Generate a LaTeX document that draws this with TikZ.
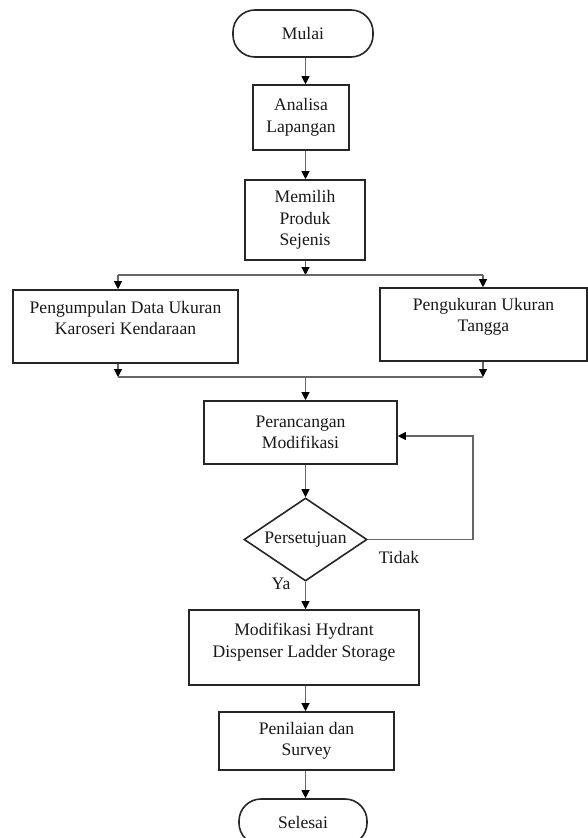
\documentclass[tikz,border=0pt]{standalone}
\usepackage{fontspec}
\setmainfont{Liberation Serif}
\usetikzlibrary{arrows.meta,shapes.geometric}
\begin{document}
\begin{tikzpicture}[x=1pt,y=-1pt,
  every node/.style={font=\fontsize{17.6}{21.5}\selectfont, text=black!90},
  box/.style={draw=black!85, line width=1.6pt, rectangle, inner sep=0pt, align=center},
  term/.style={box, rounded corners=22pt},
  txt/.style={align=center, inner sep=0pt},
  conn/.style={draw=black!60, line width=1.1pt},
  arr/.style={conn, -{Triangle[length=8pt,width=8pt,color=black]}},
]
\useasboundingbox[fill=white] (0,0) rectangle (588,838);

\node[term, minimum width=140pt, minimum height=47pt] (mulai) at (303,33.5) {Mulai};
\node[box, minimum width=96pt, minimum height=65pt] (analisa) at (301,117.5) {Analisa\\Lapangan};
\node[box, minimum width=120pt, minimum height=80pt] (memilih) at (305,220) {Memilih\\Produk\\Sejenis};
\node[box, minimum width=225pt, minimum height=73pt] (kumpul) at (125.5,326.5) {};
\node[txt] (kumpulT) at (125.5,318) {Pengumpulan Data Ukuran\\Karoseri Kendaraan};
\node[box, minimum width=207pt, minimum height=73pt] (ukur) at (483.5,324.5) {};
\node[txt] (ukurT) at (483.5,317) {Pengukuran Ukuran\\Tangga};
\node[box, minimum width=193pt, minimum height=63pt] (rancang) at (300.5,432.5) {Perancangan\\Modifikasi};
\node[draw=black!85, line width=1.6pt, diamond, aspect=1.5, inner sep=0pt,
      minimum width=123pt, minimum height=83pt] (setuju) at (305.5,539.5) {Persetujuan};
\node[box, minimum width=230pt, minimum height=75pt] (modif) at (304,647.5) {};
\node[txt] (modifT) at (304,642) {Modifikasi Hydrant\\Dispenser Ladder Storage};
\node[box, minimum width=175pt, minimum height=58pt] (nilai) at (306.5,741) {Penilaian dan\\Survey};
\node[term, minimum width=128pt, minimum height=46pt] (selesai) at (303,822) {Selesai};
\node (tidak) at (399,557) {Tidak};
\node (ya) at (281,584) {Ya};

\coordinate (sp) at (305.5,0);
\coordinate (split) at (305.5,275);
\coordinate (merge) at (305.5,377);
\coordinate (sl) at (118,275);
\coordinate (sr) at (483,275);
\coordinate (ml) at (118,377);
\coordinate (mr) at (483,377);
\coordinate (fb) at (473,436);

\draw[arr] (mulai.south -| sp) -- (analisa.north -| sp);
\draw[arr] (analisa.south -| sp) -- (memilih.north -| sp);
\draw[arr] (memilih.south -| sp) -- (split);
\draw[conn] (sl) -- (sr);
\draw[arr] (sl) -- (kumpul.north -| sl);
\draw[arr] (sr) -- (ukur.north -| sr);
\draw[arr] (kumpul.south -| ml) -- (ml);
\draw[arr] (ukur.south -| mr) -- (mr);
\draw[conn] (ml) -- (mr);
\draw[arr] (merge) -- (rancang.north -| sp);
\draw[arr] (rancang.south -| sp) -- (setuju.north);
\draw[arr] (setuju.east) -| (fb) -- (rancang.east |- fb);
\draw[arr] (setuju.south) -- (modif.north -| setuju.south);
\draw[arr] (modif.south -| sp) -- (nilai.north -| sp);
\draw[arr] (nilai.south -| sp) -- (selesai.north -| sp);
\end{tikzpicture}
\end{document}
